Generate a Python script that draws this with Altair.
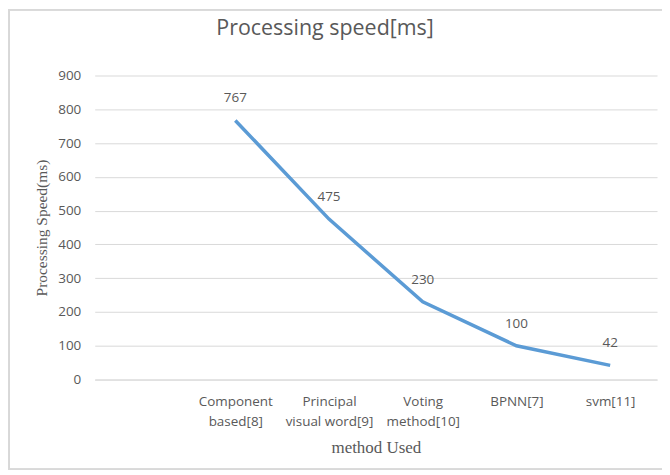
import altair as alt
import pandas as pd

categories = [" ", "Component|based[8]", "Principal|visual word[9]", "Voting|method[10]", "BPNN[7]", "svm[11]"]
methods = categories[1:]
speeds = [767, 475, 230, 100, 42]
y_ticks = [0, 100, 200, 300, 400, 500, 600, 700, 800, 900]

df = pd.DataFrame({"method": methods, "speed": speeds})

W, H = 564, 305
GRAY = "#595959"

xenc = alt.X(
    "method:N",
    sort=categories,
    scale=alt.Scale(domain=categories),
    axis=alt.Axis(
        title="method Used",
        labelExpr="split(datum.label, '|')",
        labelAngle=0,
        labelFont="Open Sans",
        labelFontSize=13.5,
        labelColor=GRAY,
        labelPadding=15,
        labelLineHeight=20,
        labelOverlap=False,
        ticks=False,
        domainColor="#d9d9d9",
        domainWidth=1,
        titleFont="Liberation Serif",
        titleFontSize=17,
        titleFontWeight="normal",
        titleColor=GRAY,
        titlePadding=12,
    ),
)
yenc = alt.Y(
    "speed:Q",
    scale=alt.Scale(domain=[0, 900], nice=False),
    axis=alt.Axis(
        title="Processing Speed(ms)",
        values=y_ticks,
        labelFont="Open Sans",
        labelFontSize=13.5,
        labelColor=GRAY,
        labelPadding=14,
        labelOverlap=False,
        ticks=False,
        domain=False,
        gridColor="#d9d9d9",
        gridWidth=1,
        titleFont="Liberation Serif",
        titleFontSize=15.5,
        titleFontWeight="normal",
        titleColor=GRAY,
        titlePadding=8,
    ),
)

frame = alt.Chart(df).mark_rect(filled=False, stroke="#d9d9d9", strokeWidth=1.5, clip=False).encode(
    x=alt.value(-86), x2=alt.value(570), y=alt.value(-66), y2=alt.value(395)
)

line = alt.Chart(df).mark_line(color="#5B9BD5", strokeWidth=3.5).encode(x=xenc, y=yenc)

labels = alt.Chart(df).mark_text(
    dy=-22, font="Open Sans", fontSize=13.5, color=GRAY
).encode(x=xenc, y=yenc, text="speed:Q")

chart = alt.layer(frame, line, labels).properties(
    width=W,
    height=H,
    title=alt.TitleParams(
        "Processing speed[ms]",
        font="Open Sans",
        fontSize=21.5,
        fontWeight="normal",
        color=GRAY,
        anchor="middle",
        dx=-51,
        dy=31,
        offset=0,
    ),
    autosize=alt.AutoSizeParams(type="none"),
    padding={"left": 87, "top": 67, "right": 5, "bottom": 90},
).configure(background="white").configure_view(stroke=None)

chart.save("out.html", embed_options={"renderer": "svg", "actions": False})
